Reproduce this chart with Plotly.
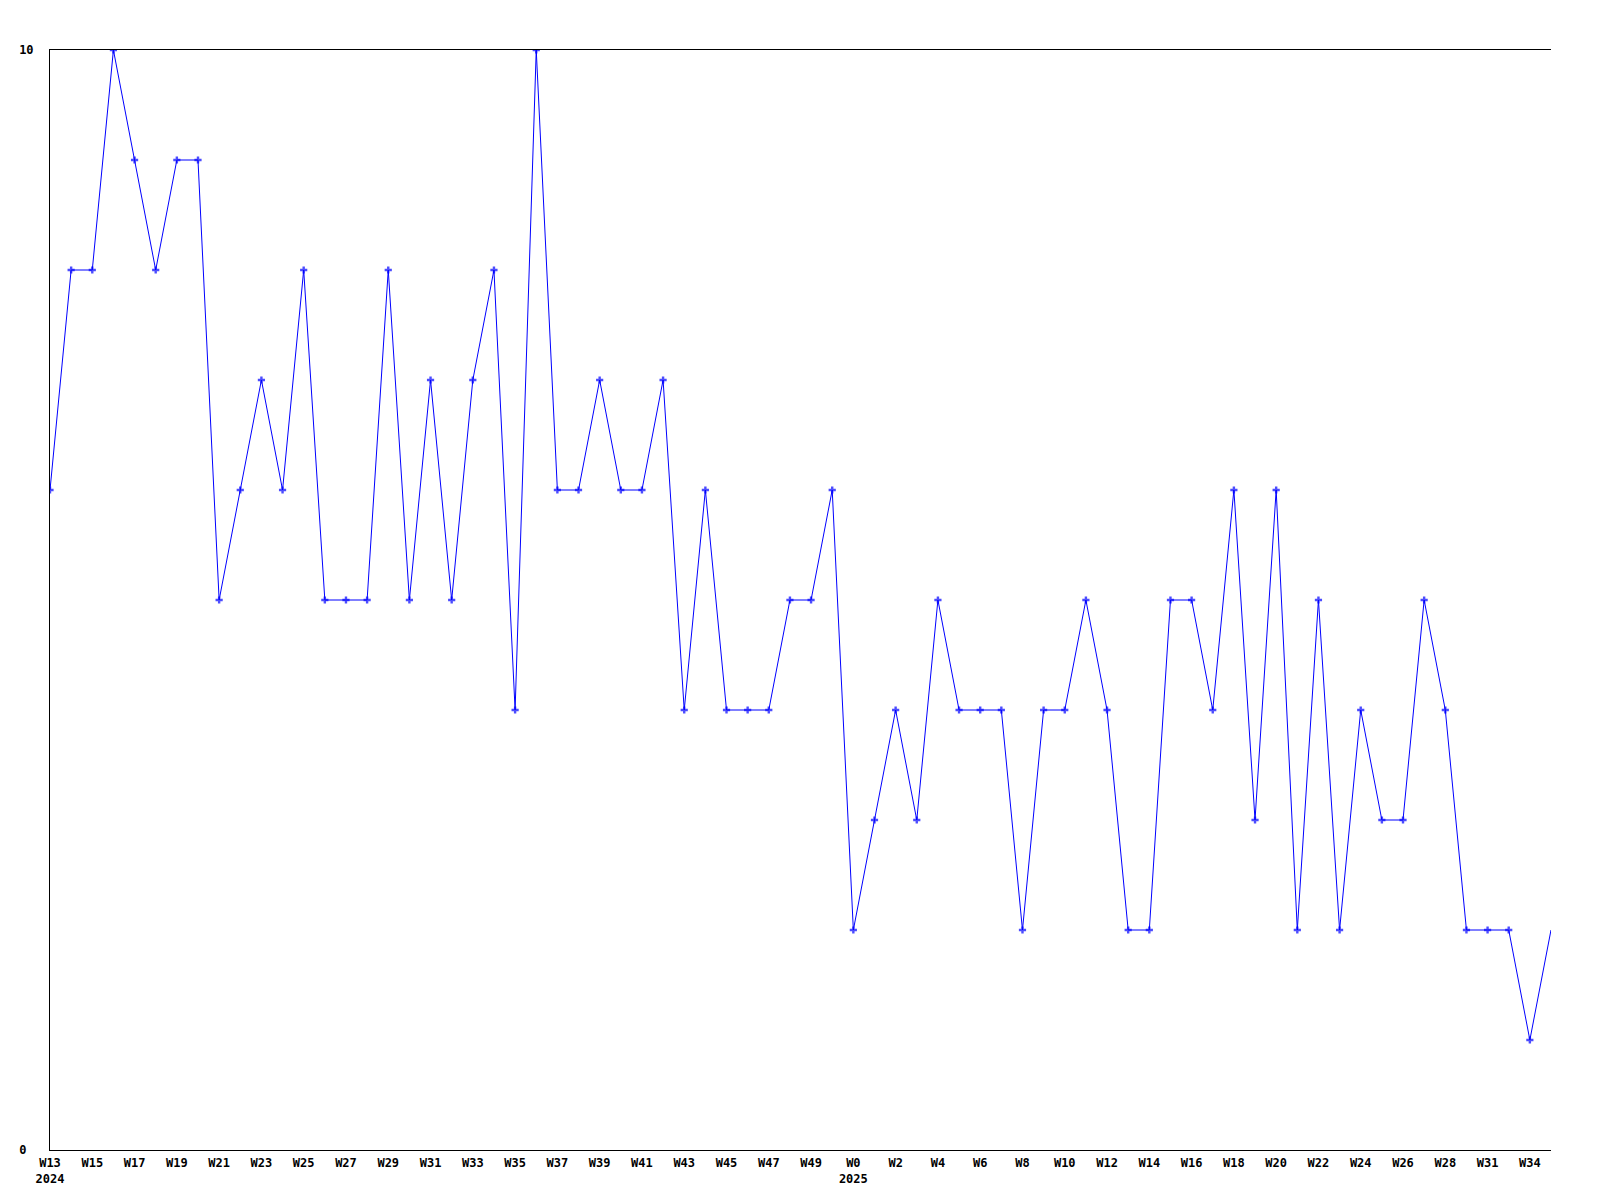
import plotly.graph_objects as go

values = [6, 8, 8, 10, 9, 8, 9, 9, 5, 6, 7, 6, 8, 5, 5, 5, 8, 5, 7, 5,
          7, 8, 4, 10, 6, 6, 7, 6, 6, 7, 4, 6, 4, 4, 4, 5, 5, 6, 2, 3,
          4, 3, 5, 4, 4, 4, 2, 4, 4, 5, 4, 2, 2, 5, 5, 4, 6, 3, 6, 2,
          5, 2, 4, 3, 3, 5, 4, 2, 2, 2, 1, 2]

tick_labels = ["W13<br>2024", "W15", "W17", "W19", "W21", "W23", "W25", "W27", "W29",
               "W31", "W33", "W35", "W37", "W39", "W41", "W43", "W45", "W47", "W49",
               "W0<br>2025", "W2", "W4", "W6", "W8", "W10", "W12", "W14", "W16", "W18",
               "W20", "W22", "W24", "W26", "W28", "W31", "W34"]
tick_points = list(range(0, 72, 2))

y_tick_vals = [0, 10]
y_tick_text = ["0\u00a0", "10"]

x = list(range(len(values)))
sizes = [6] * (len(values) - 1) + [0]

font = dict(family="DejaVu Sans Mono", size=12, color="black", weight="bold")

fig = go.Figure(go.Scatter(
    x=x, y=values, mode="lines+markers",
    line=dict(color="#0000FF", width=1),
    marker=dict(symbol="cross", size=sizes, color="#0000FF", line=dict(width=0)),
    showlegend=False,
))

fig.update_layout(
    width=1600, height=1200,
    margin=dict(l=42, r=57, t=42, b=58, autoexpand=False),
    paper_bgcolor="white", plot_bgcolor="white",
    font=font,
)
fig.update_xaxes(
    range=[0, len(values) - 1], tickvals=tick_points, ticktext=tick_labels,
    showgrid=False, zeroline=False, showline=True, mirror=True, automargin=False,
    linecolor="black", linewidth=1, ticks="", tickfont=font, ticklabelstandoff=2,
)
fig.update_yaxes(
    range=[0, 10], tickvals=y_tick_vals, ticktext=y_tick_text,
    showgrid=False, zeroline=False, showline=True, mirror=False, automargin=False,
    linecolor="black", linewidth=1, ticks="", tickfont=font, ticklabelstandoff=13,
)

fig.write_html("out.html")
